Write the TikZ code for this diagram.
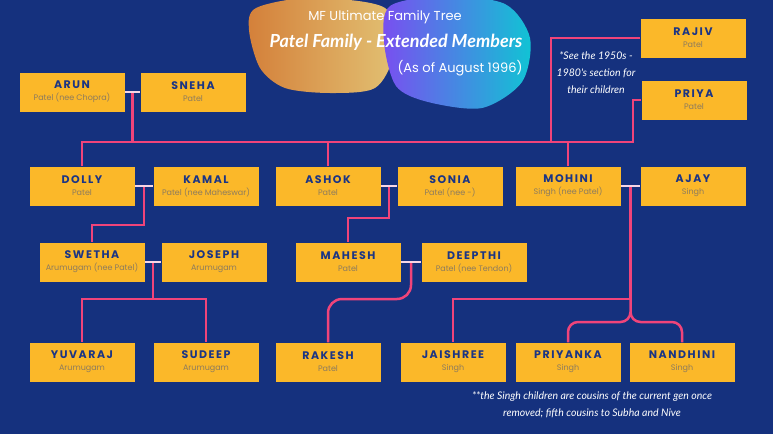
\documentclass[tikz,border=0pt]{standalone}
\usepackage{fontspec}
\setmainfont{Poppins}
\newfontfamily\notefont{Lato}
\usetikzlibrary{calc}
\definecolor{navy}{HTML}{15317E}
\definecolor{gold}{HTML}{FBB829}
\definecolor{inkblue}{HTML}{1B3585}
\definecolor{subgrey}{HTML}{8C7B5E}
\definecolor{rose}{HTML}{F0447A}
\definecolor{wed}{HTML}{F6D6E6}
\definecolor{blobA}{HTML}{D4803A}
\definecolor{blobB}{HTML}{E2C173}
\definecolor{blobC}{HTML}{7A4EF0}
\definecolor{blobD}{HTML}{10C4D4}
\newcommand{\who}[2]{{\fontsize{11}{12}\selectfont\bfseries\addfontfeatures{LetterSpace=14}\color{inkblue}#1}\\[0pt]{\fontsize{8}{9}\selectfont\color{subgrey}#2}}

\begin{document}
\begin{tikzpicture}[x=1pt,y=-1pt]
\tikzstyle{person}=[fill=gold,minimum width=105pt,minimum height=39pt,inner sep=0pt,align=center]
\tikzstyle{kin}=[rose,line width=2.5pt]
\tikzstyle{marry}=[wed,line width=2.5pt]
\tikzstyle{note}=[white,font=\notefont\itshape\fontsize{10.5}{17}\selectfont,align=center]
\fill[navy] (0,0) rectangle (773,434);
\useasboundingbox (0,0) rectangle (773,434);
% blobs behind the title
\shade[left color=blobA,right color=blobB] plot[smooth cycle] coordinates {(256,8) (310,-2) (385,8) (393,55) (375,88) (330,93) (285,88) (260,68) (249,30)};
\shade[left color=blobC,right color=blobD] plot[smooth cycle] coordinates {(390,6) (445,-4) (505,4) (530,38) (522,82) (482,108) (428,102) (396,86) (384,42)};
\node[white,font=\fontsize{13}{15}\selectfont] (title) at (385,17) {MF Ultimate Family Tree};
\node[white,font=\notefont\bfseries\itshape\fontsize{18}{20}\selectfont] (subtitle) at (396,42) {Patel Family - Extended Members};
\node[white,font=\fontsize{13}{15}\selectfont] (asof) at (460,68) {(As of August 1996)};
% people
\node[person] (arun) at (72,92) {\who{ARUN}{Patel (nee Chopra)}};
\node[person] (sneha) at (193,92) {\who{SNEHA}{Patel}};
\node[person] (rajiv) at (693,38) {\who{RAJIV}{Patel}};
\node[person] (priya) at (694,100) {\who{PRIYA}{Patel}};
\node[person] (dolly) at (82,186) {\who{DOLLY}{Patel}};
\node[person] (kamal) at (206,186) {\who{KAMAL}{Patel (nee Maheswar)}};
\node[person] (ashok) at (328,186) {\who{ASHOK}{Patel}};
\node[person] (sonia) at (450,186) {\who{SONIA}{Patel (nee -)}};
\node[person] (mohini) at (568,186) {\who{MOHINI}{Singh (nee Patel)}};
\node[person] (ajay) at (693,186) {\who{AJAY}{Singh}};
\node[person] (swetha) at (92,262) {\who{SWETHA}{Arumugam (nee Patel)}};
\node[person] (joseph) at (214,262) {\who{JOSEPH}{Arumugam}};
\node[person] (mahesh) at (348,262) {\who{MAHESH}{Patel}};
\node[person] (deepthi) at (474,262) {\who{DEEPTHI}{Patel (nee Tendon)}};
\node[person] (yuvaraj) at (82,362) {\who{YUVARAJ}{Arumugam}};
\node[person] (sudeep) at (206,362) {\who{SUDEEP}{Arumugam}};
\node[person] (rakesh) at (328,362) {\who{RAKESH}{Patel}};
\node[person] (jaishree) at (453,362) {\who{JAISHREE}{Singh}};
\node[person] (priyanka) at (568,362) {\who{PRIYANKA}{Singh}};
\node[person] (nandhini) at (682,362) {\who{NANDHINI}{Singh}};
% couples
\coordinate (m1) at ($(arun.east)!0.5!(sneha.west)$);
\coordinate (m2) at ($(dolly.east)!0.5!(kamal.west)$);
\coordinate (m3) at ($(ashok.east)!0.5!(sonia.west)$);
\coordinate (m4) at ($(mohini.east)!0.5!(ajay.west)$);
\coordinate (m5) at ($(swetha.east)!0.5!(joseph.west)$);
\coordinate (m6) at ($(mahesh.east)!0.5!(deepthi.west)$);
\coordinate (busL) at (82,142);
\coordinate (busM) at (551,142);
\coordinate (busR) at (633,142);
% lines of descent
\draw[kin] (dolly.north) -- (busL) -- (busR) |- (priya.west);
\draw[kin] (busM) |- (rajiv.west);
\draw[kin] (m1) -- (m1 |- busL);
\draw[kin] (ashok.north) -- (ashok.north |- busL);
\draw[kin] (mohini.north) -- (mohini.north |- busL);
\draw[kin] (m2) -- ++(0,39) -| (swetha.north);
\draw[kin] (m3) -- ++(0,32) -| (mahesh.north);
\draw[kin] (m5) -- ++(0,37) -| (yuvaraj.north);
\draw[kin] (m5) ++(0,37) -| (sudeep.north);
\draw[kin,rounded corners=14pt] (m6) -- ++(0,37) -| (rakesh.north);
\draw[kin] (m4) -- ++(0,113) -| (jaishree.north);
\draw[kin,rounded corners=10pt] (m4) -- ++(0,136) -| (priyanka.north);
\draw[kin,rounded corners=10pt] (m4) ++(0,126) -- ++(0,10) -| (nandhini.north);
\foreach \m/\a/\b in {m1/arun/sneha,m2/dolly/kamal,m3/ashok/sonia,m4/mohini/ajay,m5/swetha/joseph,m6/mahesh/deepthi}
  \draw[marry] (\a.east) -- (\b.west);
% notes
\node[note] (seenote) at (596,73) {*See the 1950s -\\1980's section for\\their children};
\node[note] (singhnote) at (592,405) {**the Singh children are cousins of the current gen once\\removed; fifth cousins to Subha and Nive};
\end{tikzpicture}
\end{document}
